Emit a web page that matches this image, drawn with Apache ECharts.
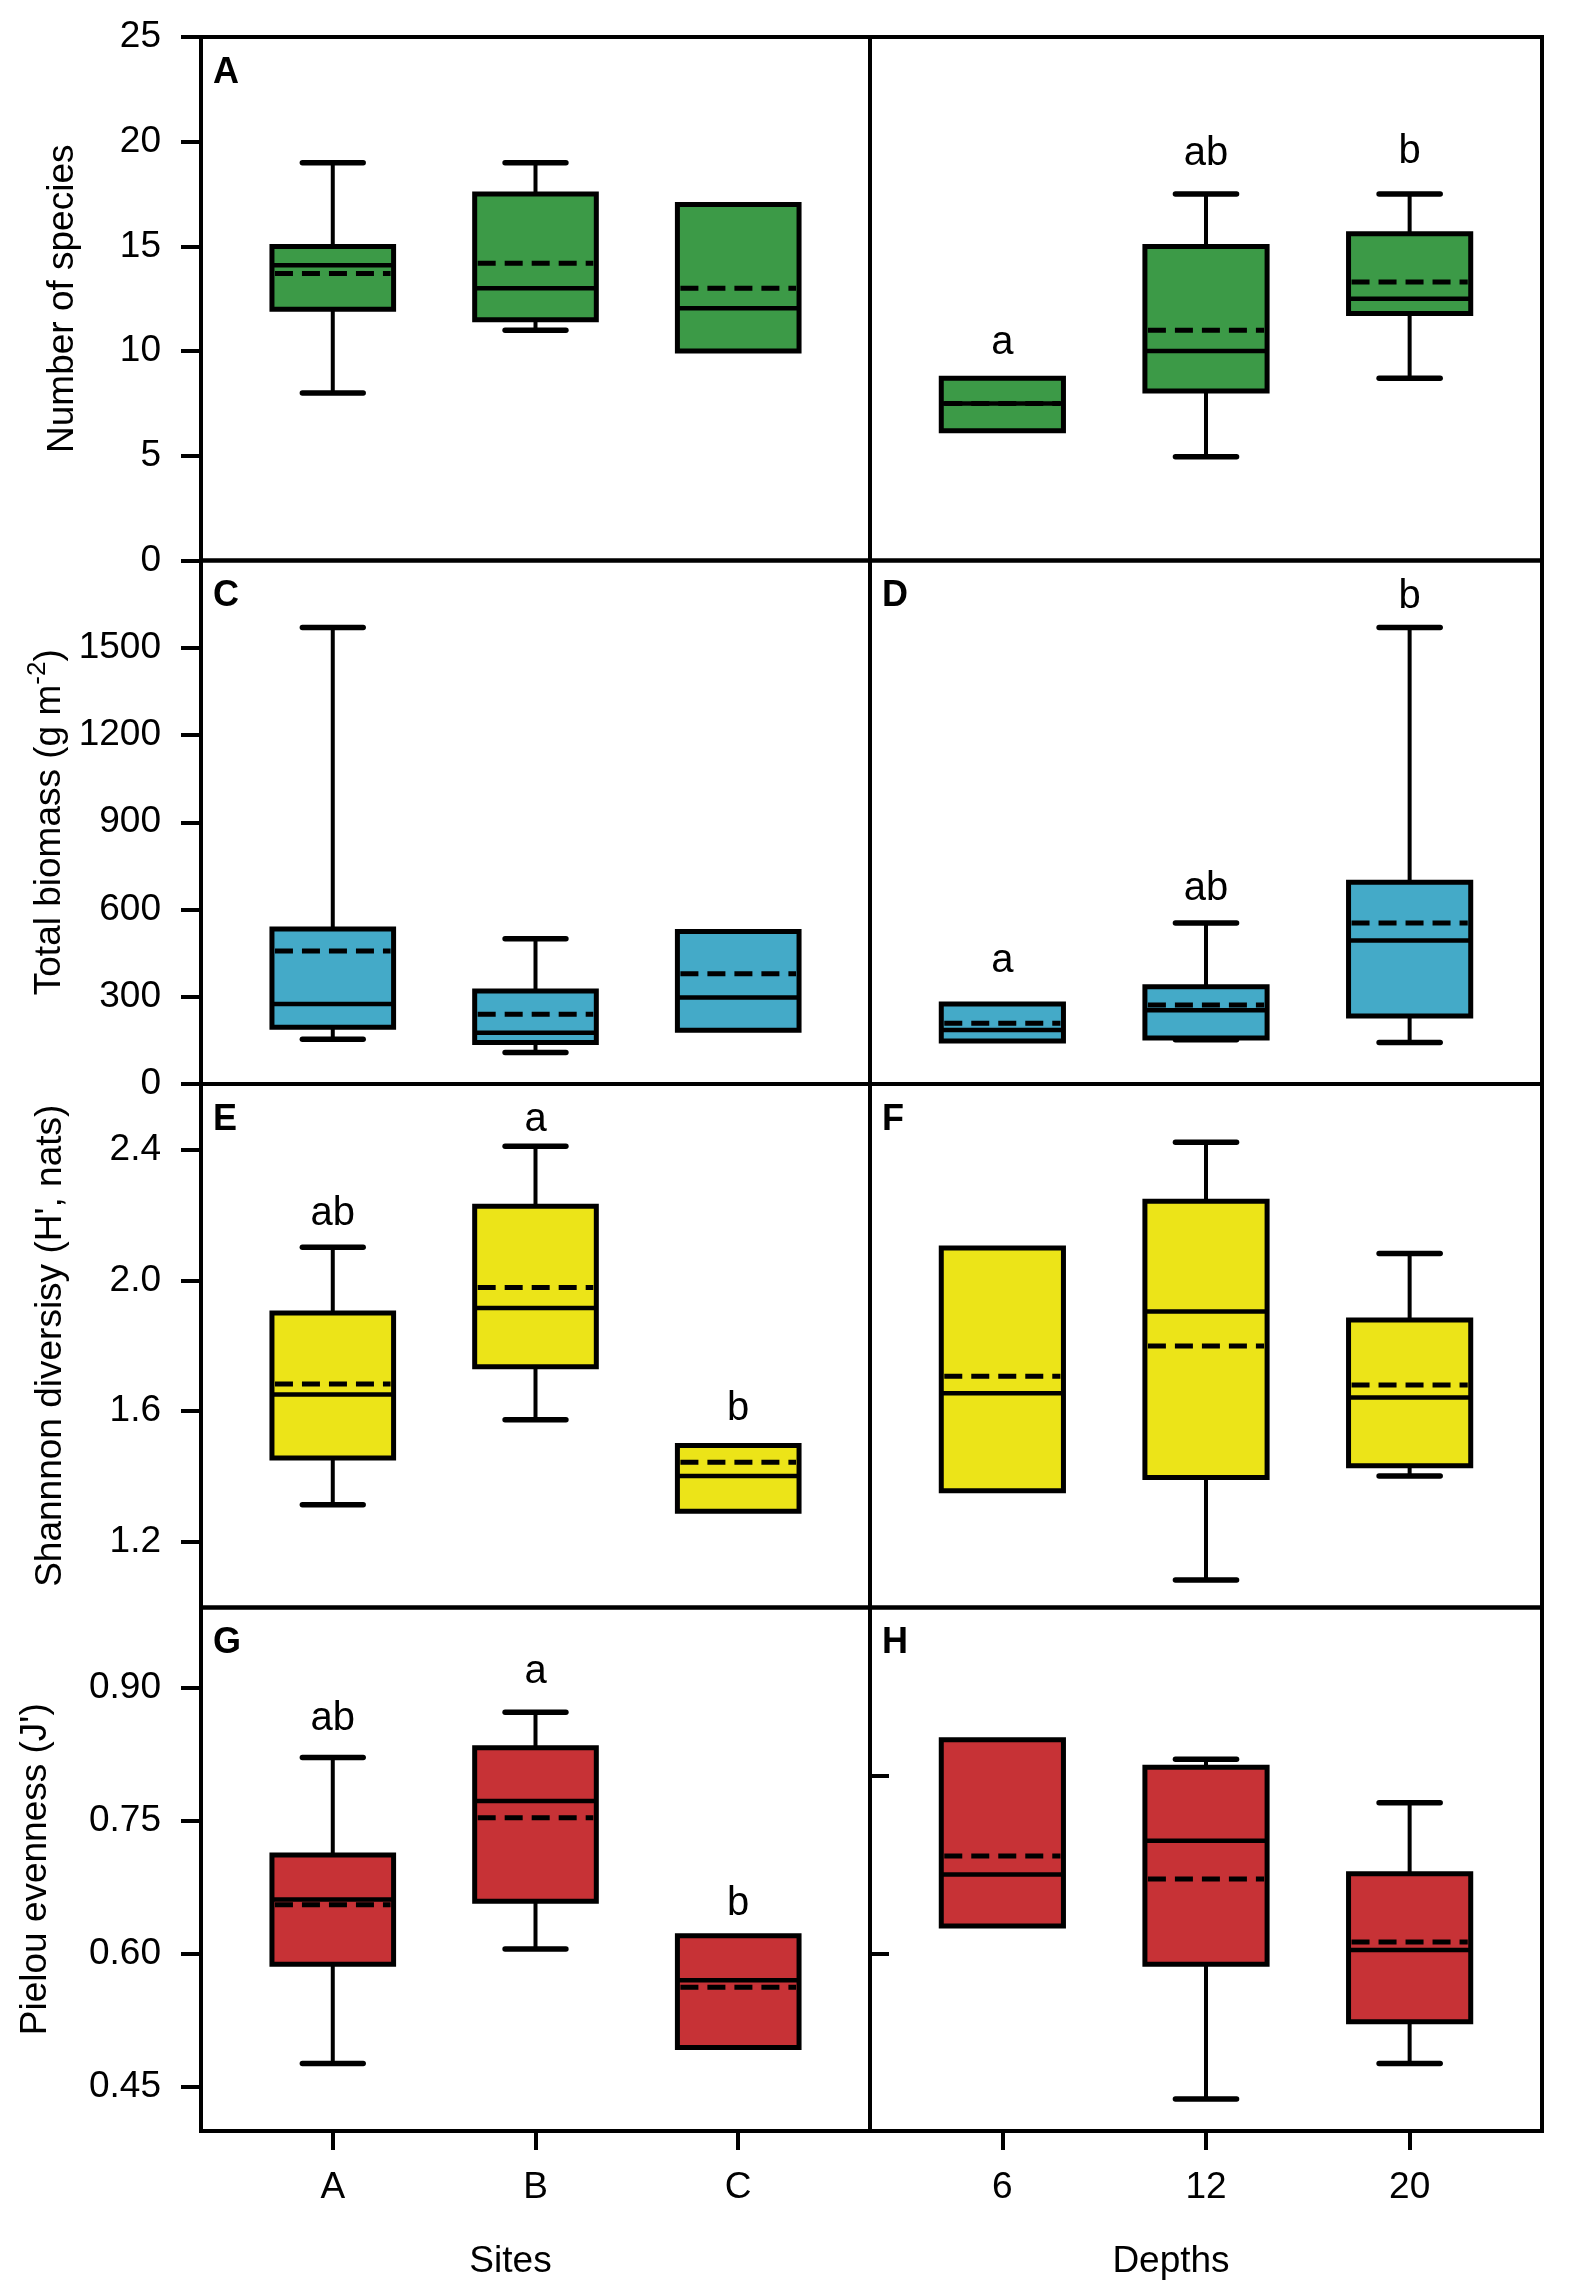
<!DOCTYPE html>
<html>
<head>
<meta charset="utf-8">
<script src="https://cdn.jsdelivr.net/npm/echarts@6/dist/echarts.min.js"></script>
<style>
  html, body { margin: 0; padding: 0; background: #fff; }
  #main { width: 1575px; height: 2287px; }
</style>
</head>
<body>
<div id="main"></div>
<script>
// categories
var sites = ['A', 'B', 'C'];
var depths = ['6', '12', '20'];

// each row: [lower whisker, Q1, median, Q3, upper whisker, mean]
var speciesBySite = [
  [8, 12, 14.1, 15, 19, 13.7],
  [11, 11.5, 13, 17.5, 19, 14.2],
  [null, 10, 12.05, 17, null, 13.0]
];
var speciesByDepth = [
  [null, 6.2, 7.5, 8.7, null, 7.5],
  [4.95, 8.1, 10, 15, 17.5, 11],
  [8.7, 11.8, 12.5, 15.6, 17.5, 13.3]
];
var biomassBySite = [
  [154, 195, 275, 533, 1570, 457],
  [108, 143, 176, 320, 499, 240],
  [null, 185, 297, 524, null, 379]
];
var biomassByDepth = [
  [null, 148, 186, 275, null, 209],
  [152, 158, 254, 334, 554, 272],
  [143, 234, 493, 694, 1570, 554]
];
var shannonBySite = [
  [1.314, 1.457, 1.651, 1.900, 2.101, 1.683],
  [1.574, 1.736, 1.915, 2.226, 2.410, 1.978],
  [null, 1.294, 1.402, 1.495, null, 1.444]
];
var shannonByDepth = [
  [null, 1.357, 1.655, 2.099, null, 1.707],
  [1.084, 1.397, 1.905, 2.242, 2.422, 1.799],
  [1.402, 1.433, 1.642, 1.879, 2.082, 1.680]
];
var evennessBySite = [
  [0.476, 0.588, 0.661, 0.711, 0.821, 0.655],
  [0.605, 0.659, 0.772, 0.832, 0.872, 0.753],
  [null, 0.494, 0.570, 0.620, null, 0.562]
];
var evennessByDepth = [
  [null, 0.631, 0.689, 0.841, null, 0.710],
  [0.436, 0.588, 0.727, 0.810, 0.819, 0.684],
  [0.476, 0.523, 0.604, 0.690, 0.770, 0.613]
];

// significance letters and the value they sit at
var speciesDepthLetters = ['a', 'ab', 'b'];
var speciesDepthLetterY = [10.4, 19.4, 19.5];
var biomassDepthLetters = ['a', 'ab', 'b'];
var biomassDepthLetterY = [423, 669, 1673];
var shannonSiteLetters = ['ab', 'a', 'b'];
var shannonSiteLetterY = [2.203, 2.489, 1.608];
var evennessSiteLetters = ['ab', 'a', 'b'];
var evennessSiteLetterY = [0.864, 0.917, 0.656];

// tick values
var speciesTicks = [0, 5, 10, 15, 20, 25];
var biomassTicks = [0, 300, 600, 900, 1200, 1500];
var shannonTicks = [1.2, 1.6, 2.0, 2.4];
var evennessTicks = [0.45, 0.60, 0.75, 0.90];
var evennessStrayTicks = [0.60, 0.80];

var FONT = 'Liberation Sans, Arial, sans-serif';
var GREEN = '#3c9a47', BLUE = '#44aac8', YELLOW = '#ece418', RED = '#c73236';

// layout
var L = 201, M = 870, R = 1542, T = 37, ROW = 523.5;

function gridOf(i) {
  var r = Math.floor(i / 2), c = i % 2;
  return {
    left: c ? M : L,
    top: T + r * ROW,
    width: c ? R - M : M - L,
    height: ROW,
    show: true,
    borderColor: '#000',
    borderWidth: 4,
    backgroundColor: 'transparent'
  };
}

function renderBox(color, letters) {
  return function (params, api) {
    var x = api.value(0);
    var lo = api.value(1), q1 = api.value(2), med = api.value(3),
        q3 = api.value(4), hi = api.value(5), mean = api.value(6), ly = api.value(7);
    var half = api.size([0.6, 0])[0] / 2;
    var cap = api.size([0.3, 0])[0] / 2;
    var px = api.coord([x, q1])[0];
    var yq1 = api.coord([x, q1])[1], yq3 = api.coord([x, q3])[1];
    var kids = [];
    var ws = { stroke: '#000', lineWidth: 4 };
    var cs = { stroke: '#000', lineWidth: 5.5, lineCap: 'round' };
    if (!isNaN(lo) && lo != null) {
      var ylo = api.coord([x, lo])[1];
      kids.push({ type: 'line', shape: { x1: px, y1: yq1, x2: px, y2: ylo }, style: ws });
      kids.push({ type: 'line', shape: { x1: px - cap, y1: ylo, x2: px + cap, y2: ylo }, style: cs });
    }
    if (!isNaN(hi) && hi != null) {
      var yhi = api.coord([x, hi])[1];
      kids.push({ type: 'line', shape: { x1: px, y1: yq3, x2: px, y2: yhi }, style: ws });
      kids.push({ type: 'line', shape: { x1: px - cap, y1: yhi, x2: px + cap, y2: yhi }, style: cs });
    }
    kids.push({
      type: 'rect',
      shape: { x: px - half, y: yq3, width: half * 2, height: yq1 - yq3 },
      style: { fill: color, stroke: '#000', lineWidth: 5 }
    });
    var ymed = api.coord([x, med])[1];
    kids.push({ type: 'line', shape: { x1: px - half, y1: ymed, x2: px + half, y2: ymed }, style: { stroke: '#000', lineWidth: 4.5 } });
    var ymean = api.coord([x, mean])[1];
    kids.push({ type: 'line', shape: { x1: px - half + 3, y1: ymean, x2: px + half - 3, y2: ymean }, style: { stroke: '#000', lineWidth: 5, lineDash: [18, 9] } });
    if (letters && !isNaN(ly) && ly != null) {
      var yl = api.coord([x, ly])[1];
      kids.push({
        type: 'text',
        style: { x: px, y: yl, text: letters[params.dataIndex], fill: '#000', font: '40px ' + FONT, textAlign: 'center', textVerticalAlign: 'middle' }
      });
    }
    return { type: 'group', children: kids };
  };
}

function boxSeries(idx, stats, color, letters, letterY) {
  return {
    type: 'custom',
    xAxisIndex: idx,
    yAxisIndex: idx,
    renderItem: renderBox(color, letters),
    encode: { x: 0, y: [1, 2, 3, 4, 5, 6] },
    clip: false,
    silent: true,
    data: stats.map(function (s, i) {
      return [i + 1].concat(s).concat([letterY ? letterY[i] : null]);
    })
  };
}

function xAxisOf(idx, names, title, shift) {
  var bottom = idx >= 6;
  return {
    type: 'value',
    gridIndex: idx,
    min: 0.35,
    max: 3.65,
    splitLine: { show: false },
    axisLine: { show: false },
    axisTick: { show: bottom, customValues: [1, 2, 3], length: 19, lineStyle: { color: '#000', width: 4 } },
    axisLabel: {
      show: bottom,
      customValues: [1, 2, 3],
      margin: 38,
      color: '#000',
      fontFamily: FONT,
      fontSize: 37,
      formatter: function (v) { return names[Math.round(v) - 1]; }
    },
    name: bottom ? title : '',
    nameLocation: 'middle',
    nameGap: 112,
    nameTextStyle: { color: '#000', fontFamily: FONT, fontSize: 37, padding: [0, shift, 0, 0] }
  };
}

function yAxisOf(idx, min, max, ticks, digits, name, gap) {
  var left = idx % 2 === 0;
  var ax = {
    type: 'value',
    gridIndex: idx,
    min: min,
    max: max,
    splitLine: { show: false },
    axisLine: { show: false },
    axisTick: { show: left, customValues: ticks, length: 20, lineStyle: { color: '#000', width: 4 } },
    axisLabel: {
      show: left,
      customValues: ticks,
      margin: 40,
      color: '#000',
      fontFamily: FONT,
      fontSize: 37,
      formatter: function (v) { return v.toFixed(digits); }
    }
  };
  if (left) {
    ax.name = name;
    ax.nameLocation = 'middle';
    ax.nameGap = gap;
    ax.nameTextStyle = { color: '#000', fontFamily: FONT, fontSize: 37 };
  }
  return ax;
}

var grids = [];
for (var i = 0; i < 8; i++) grids.push(gridOf(i));

var xAxes = [];
for (var j = 0; j < 8; j++) {
  xAxes.push(j % 2 ? xAxisOf(j, depths, 'Depths', 70) : xAxisOf(j, sites, 'Sites', 50));
}

var yAxes = [
  yAxisOf(0, 0, 25, speciesTicks, 0, 'Number of species', 120),
  yAxisOf(1, 0, 25, speciesTicks, 0),
  yAxisOf(2, 0, 1800, biomassTicks, 0, '{n|Total biomass (g m}{s|-2}{n|)}', 126),
  yAxisOf(3, 0, 1800, biomassTicks, 0),
  yAxisOf(4, 1.0, 2.6, shannonTicks, 1, "Shannnon diversisy (H', nats)", 132),
  yAxisOf(5, 1.0, 2.6, shannonTicks, 1),
  yAxisOf(6, 0.4, 0.99, evennessTicks, 2, "Pielou evenness (J')", 147),
  yAxisOf(7, 0.4, 0.99, evennessTicks, 2)
];
yAxes[2].nameTextStyle.rich = {
  n: { fontFamily: FONT, fontSize: 37, lineHeight: 50, color: '#000' },
  s: { fontFamily: FONT, fontSize: 26, lineHeight: 26, verticalAlign: 'top', color: '#000' }
};
// stray inner ticks on panel H
yAxes[7].axisTick = { show: true, inside: true, customValues: evennessStrayTicks, length: 19, lineStyle: { color: '#000', width: 4 } };

var panelLetters = ['A', 'B', 'C', 'D', 'E', 'F', 'G', 'H'];
var graphics = [];
for (var k = 0; k < 8; k++) {
  if (k === 1) continue; // panel B has no letter shown
  var g = gridOf(k);
  graphics.push({
    type: 'text',
    left: g.left + 12,
    top: g.top + 18,
    style: { text: panelLetters[k], fill: '#000', font: 'bold 36px ' + FONT }
  });
}

var option = {
  backgroundColor: '#fff',
  animation: false,
  grid: grids,
  xAxis: xAxes,
  yAxis: yAxes,
  graphic: graphics,
  series: [
    boxSeries(0, speciesBySite, GREEN),
    boxSeries(1, speciesByDepth, GREEN, speciesDepthLetters, speciesDepthLetterY),
    boxSeries(2, biomassBySite, BLUE),
    boxSeries(3, biomassByDepth, BLUE, biomassDepthLetters, biomassDepthLetterY),
    boxSeries(4, shannonBySite, YELLOW, shannonSiteLetters, shannonSiteLetterY),
    boxSeries(5, shannonByDepth, YELLOW),
    boxSeries(6, evennessBySite, RED, evennessSiteLetters, evennessSiteLetterY),
    boxSeries(7, evennessByDepth, RED)
  ]
};

var chart = echarts.init(document.getElementById('main'));
chart.setOption(option);
</script>
</body>
</html>
